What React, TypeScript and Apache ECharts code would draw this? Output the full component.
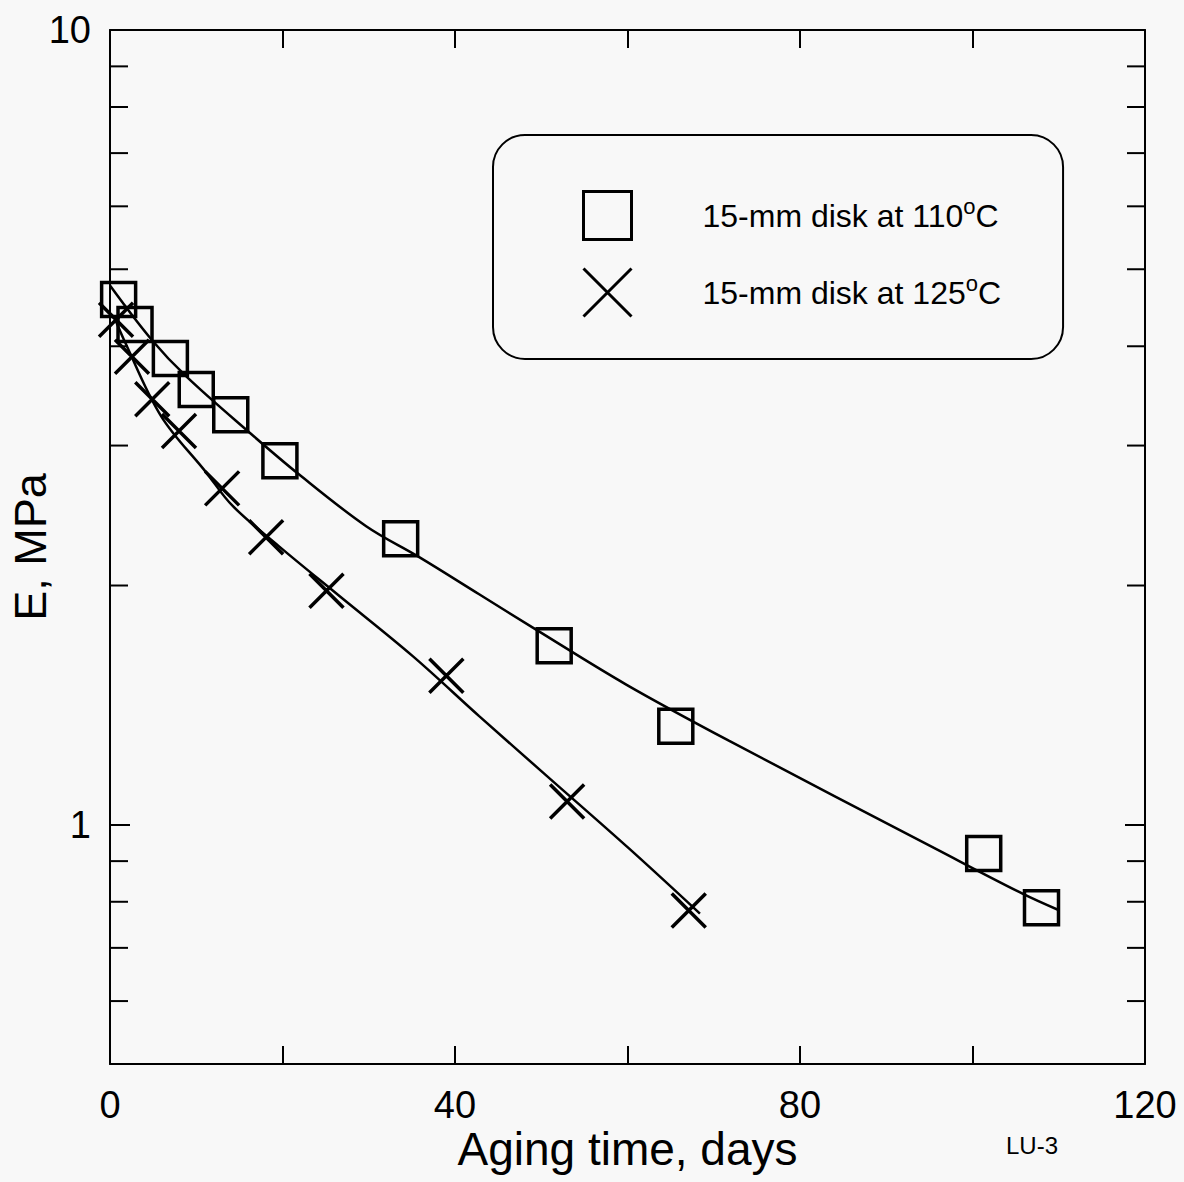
import React, { useEffect, useRef } from "react";
import * as echarts from "echarts";

// ---- data ----
const seriesNames = ["15-mm disk at 110°C", "15-mm disk at 125°C"];

// measured points, 110 °C (squares)
const days110 = [1, 2.9, 7, 10, 14, 19.7, 33.7, 51.5, 65.6, 101.3, 108];
const modulus110 = [4.58, 4.26, 3.86, 3.53, 3.28, 2.87, 2.29, 1.68, 1.33, 0.92, 0.786];

// measured points, 125 °C (crosses)
const days125 = [0.7, 2.55, 4.9, 8, 13, 18.1, 25.1, 39, 53, 67.1];
const modulus125 = [4.32, 3.88, 3.43, 3.13, 2.65, 2.3, 1.97, 1.54, 1.07, 0.78];

// fitted curves
const fitDays110 = [0, 4.8, 8.9, 16.1, 21.9, 29.7, 35.9, 42.8, 49.4, 59.9, 71.8, 96.2, 105.8, 110.1];
const fitModulus110 = [4.77, 4.08, 3.66, 3.12, 2.76, 2.375, 2.17, 1.95, 1.76, 1.5, 1.275, 0.927, 0.819, 0.78];
const fitDays125 = [0.5, 1.6, 5.9, 11.1, 14.2, 19.6, 26.6, 35.1, 42.8, 50.6, 60.2, 68.4];
const fitModulus125 = [4.35, 4.08, 3.27, 2.78, 2.52, 2.24, 1.94, 1.63, 1.37, 1.153, 0.933, 0.773];

// axis ticks
const xLabelValues = [0, 40, 80, 120];
const yMinorTicks = [0.6, 0.7, 0.8, 0.9, 2, 3, 4, 5, 6, 7, 8, 9];

const FONT = "'Liberation Sans', Arial, Helvetica, sans-serif";
const BLACK = "#000";

const zip = (xs: number[], ys: number[]) => xs.map((x, i) => [x, ys[i]]);

export default function App() {
  const ref = useRef<HTMLDivElement>(null);

  useEffect(() => {
    if (!ref.current) return;
    const chart = echarts.init(ref.current, undefined, { renderer: "svg" });

    const axisLine = { show: true, onZero: false, lineStyle: { color: BLACK, width: 2 } };
    const tickStyle = { color: BLACK, width: 2 };
    const isPow10 = (v: number) => {
      const l = Math.log10(v);
      return Math.abs(l - Math.round(l)) < 1e-6;
    };

    const option: any = {
      animation: false,
      backgroundColor: "#f8f8f8",
      textStyle: { fontFamily: FONT, color: BLACK },
      grid: {
        left: 110,
        right: 39,
        top: 30,
        bottom: 118,
        containLabel: false,
        outerBoundsMode: "none",
      },
      legend: {
        data: [
          { name: seriesNames[0], itemStyle: { borderWidth: 3 } },
          { name: seriesNames[1], itemStyle: { borderWidth: 3 } },
        ],
        orient: "vertical",
        left: 493,
        top: 135,
        itemWidth: 48,
        itemHeight: 48,
        itemGap: 24,
        padding: [54, 62, 40, 88],
        borderColor: BLACK,
        borderWidth: 2,
        borderRadius: 32,
        selectedMode: false,
        formatter: (name: string) => name.replace("°", "{sup|o}"),
        textStyle: {
          fontSize: 32,
          lineHeight: 40,
          color: BLACK,
          fontFamily: FONT,
          padding: [0, 0, 0, 66],
          rich: {
            sup: {
              fontSize: 22,
              color: BLACK,
              fontFamily: FONT,
              verticalAlign: "top",
              lineHeight: 16,
            },
          },
        },
      },
      xAxis: [
        {
          type: "value",
          position: "bottom",
          min: 0,
          max: 120,
          interval: 20,
          axisLine,
          axisTick: { show: true, inside: true, length: 18, lineStyle: tickStyle },
          axisLabel: {
            formatter: (v: number) => (xLabelValues.includes(v) ? String(v) : ""),
            fontSize: 38,
            color: BLACK,
            fontFamily: FONT,
            margin: 22,
          },
          splitLine: { show: false },
          name: "Aging time, days",
          nameLocation: "middle",
          nameGap: 62,
          nameMoveOverlap: false,
          nameTextStyle: { fontSize: 46, color: BLACK, fontFamily: FONT },
        },
        {
          type: "value",
          position: "top",
          min: 0,
          max: 120,
          interval: 20,
          axisLine,
          axisTick: { show: true, inside: true, length: 18, lineStyle: tickStyle },
          axisLabel: { show: false },
          splitLine: { show: false },
        },
      ],
      yAxis: [
        {
          type: "log",
          logBase: 10,
          position: "left",
          min: 0.5,
          max: 10,
          axisLine,
          axisTick: { show: true, inside: true, length: 20, lineStyle: tickStyle },
          minorTick: { show: false },
          axisLabel: {
            formatter: (v: number) => (isPow10(v) ? String(Math.round(v)) : ""),
            fontSize: 38,
            color: BLACK,
            fontFamily: FONT,
            margin: 19,
          },
          splitLine: { show: false },
          name: "E, MPa",
          nameLocation: "middle",
          nameGap: 57,
          nameMoveOverlap: false,
          nameTextStyle: { fontSize: 45, color: BLACK, fontFamily: FONT },
        },
        {
          type: "log",
          logBase: 10,
          position: "right",
          min: 0.5,
          max: 10,
          axisLine,
          axisTick: { show: true, inside: true, length: 20, lineStyle: tickStyle },
          axisLabel: { show: false },
          splitLine: { show: false },
        },
      ],
      graphic: [
        {
          type: "text",
          left: 1006,
          top: 1133,
          style: { text: "LU-3", fontSize: 24, fill: BLACK, fontFamily: FONT },
        },
      ],
      series: [
        {
          type: "custom",
          name: "minor ticks",
          xAxisIndex: 0,
          yAxisIndex: 0,
          silent: true,
          data: yMinorTicks.map((v) => [0, v]),
          renderItem: (params: any, api: any) => {
            const y = api.coord([0, api.value(1)])[1];
            const cs = params.coordSys;
            const st = { stroke: BLACK, lineWidth: 2 };
            return {
              type: "group",
              children: [
                { type: "line", shape: { x1: cs.x, y1: y, x2: cs.x + 18, y2: y }, style: st },
                {
                  type: "line",
                  shape: { x1: cs.x + cs.width - 18, y1: y, x2: cs.x + cs.width, y2: y },
                  style: st,
                },
              ],
            };
          },
        },
        {
          type: "line",
          name: "fit110",
          data: zip(fitDays110, fitModulus110),
          smooth: 0.35,
          showSymbol: false,
          symbol: "none",
          silent: true,
          lineStyle: { color: BLACK, width: 2.5 },
        },
        {
          type: "line",
          name: "fit125",
          data: zip(fitDays125, fitModulus125),
          smooth: 0.35,
          showSymbol: false,
          symbol: "none",
          silent: true,
          lineStyle: { color: BLACK, width: 2.5 },
        },
        {
          type: "scatter",
          name: seriesNames[0],
          data: zip(days110, modulus110),
          symbol: "rect",
          symbolSize: 34,
          itemStyle: { color: "none", borderColor: BLACK, borderWidth: 3.5, opacity: 1 },
          emphasis: { disabled: true },
          z: 3,
        },
        {
          type: "scatter",
          name: seriesNames[1],
          data: zip(days125, modulus125),
          symbol: "path://M0,0L10,10M10,0L0,10",
          symbolSize: 34,
          itemStyle: { color: "none", borderColor: BLACK, borderWidth: 3.5, opacity: 1 },
          emphasis: { disabled: true },
          z: 3,
        },
      ],
    };

    chart.setOption(option);
    return () => chart.dispose();
  }, []);

  return (
    <div
      ref={ref}
      style={{ position: "fixed", left: 0, top: 0, width: 1184, height: 1182, background: "#f8f8f8" }}
    />
  );
}
